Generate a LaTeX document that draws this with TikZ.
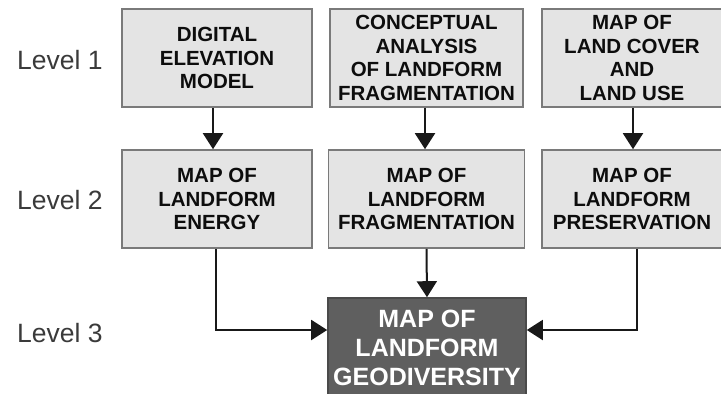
\documentclass[tikz,border=0pt]{standalone}
\usepackage{fontspec}
\setmainfont{Liberation Sans}
\usetikzlibrary{arrows.meta}
\definecolor{boxfill}{HTML}{E4E4E4}
\definecolor{boxline}{HTML}{7A7A7A}
\definecolor{darkfill}{HTML}{5F5F5F}
\definecolor{darkline}{HTML}{4A4A4A}
\definecolor{labeltext}{HTML}{3A3A3A}
\tikzset{
  srcbox/.style={draw=boxline, line width=1.6pt, fill=boxfill, inner sep=0pt,
    align=center, text=black!95, font=\fontsize{20.5}{23.5}\selectfont\bfseries},
  goalbox/.style={draw=darkline, line width=1.6pt, fill=darkfill, inner sep=0pt,
    align=center, text=white, font=\fontsize{25}{29}\selectfont\bfseries},
  levellabel/.style={anchor=west, inner sep=0pt, text=labeltext,
    font=\fontsize{26.5}{30}\selectfont},
  flow/.style={draw=black!90, line width=2pt,
    -{Triangle[width=20pt 0, length=16pt 0]}},
}
\begin{document}
\begin{tikzpicture}[x=1pt, y=-1pt]
\useasboundingbox (0,0) rectangle (721,394);

% level captions
\node[levellabel] (l1) at (17,60)  {Level 1};
\node[levellabel] (l2) at (17,200) {Level 2};
\node[levellabel] (l3) at (17,333) {Level 3};

% level 1 inputs
\node[srcbox, minimum width=190pt, minimum height=98pt] (a1) at (217,58)
  {DIGITAL\\ELEVATION\\MODEL};
\node[srcbox, minimum width=193pt, minimum height=98pt] (a2) at (426.5,58)
  {CONCEPTUAL\\ANALYSIS\\OF LANDFORM\\FRAGMENTATION};
\node[srcbox, minimum width=180pt, minimum height=98pt] (a3) at (632,58)
  {MAP OF\\LAND COVER\\AND\\LAND USE};

% level 2 maps
\node[srcbox, minimum width=190pt, minimum height=98pt] (b1) at (217,199)
  {MAP OF\\LANDFORM\\ENERGY};
\node[srcbox, minimum width=196pt, minimum height=98pt] (b2) at (426.5,199)
  {MAP OF\\LANDFORM\\FRAGMENTATION};
\node[srcbox, minimum width=180pt, minimum height=98pt] (b3) at (632,199)
  {MAP OF\\LANDFORM\\PRESERVATION};

% level 3 result
\node[goalbox, minimum width=198pt, minimum height=100pt] (c) at (427,348)
  {MAP OF\\LANDFORM\\GEODIVERSITY};

% connectors
\draw[flow] ([xshift=-4pt]a1.south) -- ([xshift=-4pt]b1.north);
\draw[flow] ([xshift=-1.5pt]a2.south) -- ([xshift=-1.5pt]b2.north);
\draw[flow] ([xshift=1pt]a3.south) -- ([xshift=1pt]b3.north);
\draw[flow] (b2.south) -- (c.north);
\coordinate (turnL) at (216,330);
\coordinate (turnR) at (637,330);
\draw[flow] (b1.south -| turnL) -- (turnL) -- (turnL -| c.west);
\draw[flow] (b3.south -| turnR) -- (turnR) -- (turnR -| c.east);
\end{tikzpicture}
\end{document}
